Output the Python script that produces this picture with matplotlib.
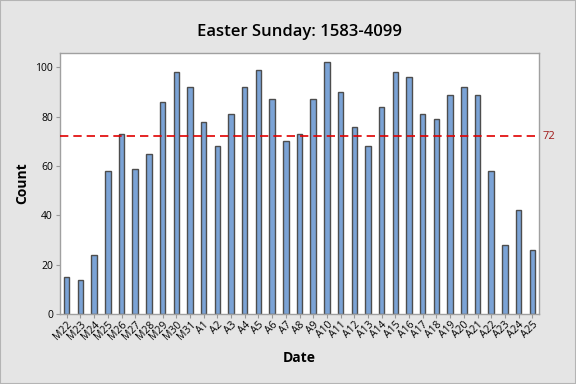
import matplotlib
matplotlib.use("Agg")
from matplotlib import pyplot as plt
from matplotlib.patches import Rectangle

dates = ["M22", "M23", "M24", "M25", "M26", "M27", "M28", "M29", "M30", "M31",
         "A1", "A2", "A3", "A4", "A5", "A6", "A7", "A8", "A9", "A10",
         "A11", "A12", "A13", "A14", "A15", "A16", "A17", "A18", "A19", "A20",
         "A21", "A22", "A23", "A24", "A25"]
counts = [15, 14, 24, 58, 73, 59, 65, 86, 98, 92,
          78, 68, 81, 92, 99, 87, 70, 73, 87, 102,
          90, 76, 68, 84, 98, 96, 81, 79, 89, 92,
          89, 58, 28, 42, 26]
ref_value = 72

plt.rcParams['font.family'] = ['Open Sans', 'DejaVu Sans']

fig = plt.figure(figsize=(5.76, 3.84), dpi=100, facecolor="#e5e5e5")
fig.patches.append(Rectangle((0, 0), 1, 1, transform=fig.transFigure,
                             fill=False, edgecolor="#b4b4b4", linewidth=1.5))
ax = fig.add_axes([0.104, 0.182, 0.832, 0.681])
ax.set_facecolor("white")

x = range(len(dates))
ax.bar(x, counts, width=0.4, color="#7ba3d6", edgecolor="#4d4d4d", linewidth=1.0, zorder=2)
ax.axhline(ref_value, color="#e00000", linestyle=(0, (5, 3)), linewidth=1.2, zorder=3)
ax.text(1.008, ref_value, str(ref_value), transform=ax.get_yaxis_transform(),
        color="#a01818", fontsize=8, va="center", ha="left")

ax.set_xlim(-0.5, len(dates) - 0.5)
ax.set_ylim(0, 106)
ax.set_yticks([0, 20, 40, 60, 80, 100])
ax.set_xticks(list(x))
ax.set_xticklabels(dates, rotation=45, ha="right", rotation_mode="anchor", fontsize=7.5)
ax.tick_params(axis="y", labelsize=7.5, length=3, color="#999999", pad=2)
ax.tick_params(axis="x", length=3, color="#999999", pad=1)

for s in ax.spines.values():
    s.set_color("#a0a0a0")
    s.set_linewidth(1.0)

ax.set_title("Easter Sunday: 1583-4099", fontsize=12, fontweight="semibold", pad=12)
ax.set_ylabel("Count", fontsize=10, fontweight="bold", labelpad=4)
ax.set_xlabel("Date", fontsize=10, fontweight="bold", labelpad=6)

fig.savefig("out.png", dpi=100, facecolor=fig.get_facecolor())
